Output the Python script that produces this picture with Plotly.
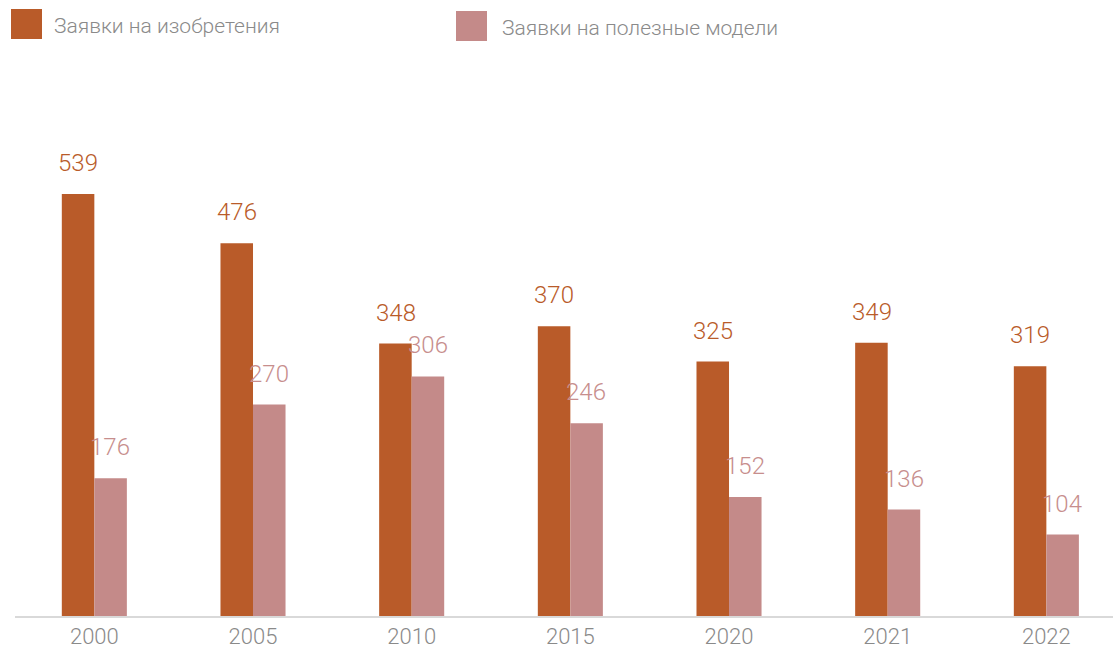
import plotly.graph_objects as go

years = ["2000", "2005", "2010", "2015", "2020", "2021", "2022"]
inventions = [539, 476, 348, 370, 325, 349, 319]
utility_models = [176, 270, 306, 246, 152, 136, 104]
series_names = ["Заявки на изобретения", "Заявки на полезные модели"]

C_ORANGE = "#B95B29"
C_PINK = "#C48A89"
C_PINK_TEXT = "#C78E8D"
C_GRAY = "#8A8A8A"
FONT = "Roboto, sans-serif"

W, H = 1113, 653
ML, MR, MT, MB = 15, 0, 80, 37
PW, PH = W - ML - MR, H - MT - MB


def px_x(x):
    return (x - ML) / PW


def px_y(y):
    return (H - MB - y) / PH


fig = go.Figure()
fig.add_trace(go.Bar(x=years, y=inventions, name=series_names[0],
                     marker=dict(color=C_ORANGE, line=dict(width=0))))
fig.add_trace(go.Bar(x=years, y=utility_models, name=series_names[1],
                     marker=dict(color=C_PINK, line=dict(width=0))))

annotations = []
for i, v in enumerate(inventions):
    annotations.append(dict(x=i, y=v, xref="x", yref="y", text=str(v), showarrow=False,
                            xshift=-16, yshift=31, yanchor="middle",
                            font=dict(family=FONT, size=24, weight=300, color=C_ORANGE)))
for i, v in enumerate(utility_models):
    annotations.append(dict(x=i, y=v, xref="x", yref="y", text=str(v), showarrow=False,
                            xshift=16, yshift=31, yanchor="middle",
                            font=dict(family=FONT, size=24, weight=300, color=C_PINK_TEXT)))

# legend (drawn manually)
shapes = []
legend_items = [(series_names[0], C_ORANGE, 11, 42, 9, 39, 52),
                (series_names[1], C_PINK, 456, 487, 11, 41, 500)]
for name, col, x0, x1, y0, y1, tx in legend_items:
    shapes.append(dict(type="rect", xref="paper", yref="paper",
                       x0=px_x(x0), x1=px_x(x1), y0=px_y(y1), y1=px_y(y0),
                       fillcolor=col, line=dict(width=0)))
    annotations.append(dict(x=px_x(tx), y=px_y((y0 + y1) / 2 + 2), xref="paper", yref="paper",
                            text=name, showarrow=False, xanchor="left", yanchor="middle",
                            font=dict(family=FONT, size=21, weight=300, color=C_GRAY)))

fig.update_layout(
    width=W, height=H,
    margin=dict(l=ML, r=MR, t=MT, b=MB, pad=0, autoexpand=False),
    paper_bgcolor="white", plot_bgcolor="white",
    barmode="group", bargap=0.59, bargroupgap=0,
    showlegend=False,
    annotations=annotations, shapes=shapes,
    xaxis=dict(type="category", range=[-0.5, 6.42], showgrid=False, automargin=False,
               showline=True, linecolor="#D9D9D9", linewidth=2,
               ticks="", tickfont=dict(family=FONT, size=22, weight=300, color=C_GRAY),
               ticklabelstandoff=0),
    yaxis=dict(range=[0, 684.5], visible=False, showgrid=False, zeroline=False,
               automargin=False),
)

fig.write_html("out.html", config={"displayModeBar": False},
               post_script="document.body.style.margin='0';document.body.style.overflow='hidden';")
